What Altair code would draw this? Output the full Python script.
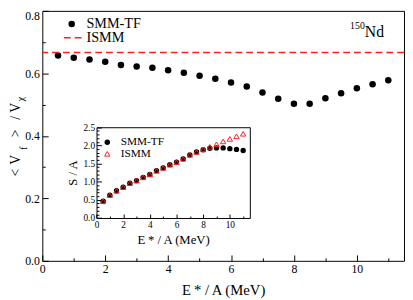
import altair as alt
import pandas as pd

# ---------------- data ----------------
energy = [0.5, 1.0, 1.5, 2.0, 2.5, 3.0, 3.5, 4.0, 4.5, 5.0, 5.5,
          6.0, 6.5, 7.0, 7.5, 8.0, 8.5, 9.0, 9.5, 10.0, 10.5, 11.0]
vratio_smm = [0.657, 0.650, 0.644, 0.637, 0.627, 0.622, 0.618, 0.610, 0.602, 0.592, 0.583,
              0.571, 0.558, 0.539, 0.519, 0.503, 0.503, 0.520, 0.536, 0.552, 0.565, 0.578]
ismm_ratio = [0.667]

s_smm = [0.46, 0.63, 0.75, 0.85, 0.96, 1.03, 1.12, 1.20, 1.30, 1.38, 1.47,
         1.54, 1.63, 1.74, 1.82, 1.88, 1.92, 1.93, 1.93, 1.91, 1.89, 1.86]
s_ismm = [0.46, 0.63, 0.75, 0.85, 0.96, 1.03, 1.12, 1.20, 1.30, 1.38, 1.47,
          1.54, 1.63, 1.74, 1.82, 1.89, 1.96, 2.03, 2.11, 2.18, 2.25, 2.32]

x_major = [0, 2, 4, 6, 8, 10]
x_minor = [1, 3, 5, 7, 9, 11]
y_major = [0.0, 0.2, 0.4, 0.6, 0.8]
y_minor = [0.1, 0.3, 0.5, 0.7]
inset_y_major = [0.0, 0.5, 1.0, 1.5, 2.0, 2.5]
inset_y_minor = [0.1, 0.2, 0.3, 0.4, 0.6, 0.7, 0.8, 0.9, 1.1, 1.2, 1.3, 1.4,
                 1.6, 1.7, 1.8, 1.9, 2.1, 2.2, 2.3, 2.4]
legend_labels = ["SMM-TF", "ISMM"]
nucleus = ["150", "Nd"]
ytitle_main = ["<", "V", ">", "/", "V"]
ytitle_sub = ["f", "\u03c7"]

# ---------------- layout ----------------
W, H = 369, 255
SERIF = "Liberation Serif"
RED = "#ff2020"

main_df = pd.DataFrame({"E": energy, "V": vratio_smm})
inset_df = pd.DataFrame({"E": energy, "S1": s_smm, "S2": s_ismm})
rule_df = pd.DataFrame({"r": ismm_ratio})
one = main_df.head(1)

mx = alt.Scale(domain=[0, 11.5], nice=False, zero=False)
my = alt.Scale(domain=[0, 0.8], nice=False, zero=False)
ix = alt.Scale(domain=[0, 11.5], range=[55.3, 211.7], nice=False, zero=False)
iy = alt.Scale(domain=[0, 2.5], range=[211.3, 118.7], nice=False, zero=False)

IX_OFF = -(H - 211.3)   # inset bottom axis offset
IY_OFF = -55.3          # inset left axis offset


def label_axis(orient, values, fmt, size, offset=0, title=None, tsize=14, pad=3, tpad=3,
               baseline="middle"):
    return alt.Axis(orient=orient, values=values, format=fmt, ticks=False, tickSize=0,
                    domain=(offset != 0), domainColor="black", offset=offset,
                    labelFont=SERIF, labelFontSize=size, labelColor="black", labelPadding=pad,
                    labelBaseline=baseline if orient in ("left", "right") else "top",
                    title=title, titleFont=SERIF, titleFontSize=tsize, titleFontWeight="normal",
                    titleColor="black", titlePadding=tpad, grid=False, labelFlush=False)


def tick_axis(orient, values, size, offset=0):
    return alt.Axis(orient=orient, values=values, labels=False, domain=False, ticks=True,
                    tickSize=size, offset=offset - size, tickColor="black", title=None, grid=False)


def txt(t, size, x, y, align="left", baseline="middle", angle=0):
    return alt.Chart(one).mark_text(align=align, baseline=baseline, font=SERIF, fontSize=size,
                                    angle=angle, color="black", text=t).encode(
        x=alt.value(x), y=alt.value(y))


# main panel: labels
main_pts = alt.Chart(main_df).mark_circle(size=44, color="black", opacity=1).encode(
    x=alt.X("E:Q", scale=mx, axis=label_axis("bottom", x_major, "d", 12,
                                             title="E\u2009* / A (MeV)", tsize=15, tpad=8)),
    y=alt.Y("V:Q", scale=my, axis=label_axis("left", y_major[:-1], ".1f", 12)),
)
main_toplabel = alt.Chart(main_df).mark_point(opacity=0).encode(
    x=alt.X("E:Q", scale=mx, axis=None),
    y=alt.Y("V:Q", scale=my, axis=label_axis("left", y_major[-1:], ".1f", 12, baseline="top")),
)
main_major = alt.Chart(main_df).mark_point(opacity=0).encode(
    x=alt.X("E:Q", scale=mx, axis=tick_axis("bottom", x_major, 6)),
    y=alt.Y("V:Q", scale=my, axis=tick_axis("left", y_major, 6)),
)
main_minor = alt.Chart(main_df).mark_point(opacity=0).encode(
    x=alt.X("E:Q", scale=mx, axis=tick_axis("bottom", x_minor, 3)),
    y=alt.Y("V:Q", scale=my, axis=tick_axis("left", y_minor, 3)),
)
ismm_rule = alt.Chart(rule_df).mark_rule(color=RED, strokeDash=[7, 4], strokeWidth=1.5).encode(
    y=alt.Y("r:Q", scale=my, axis=None)
)

# main legend
leg_pt = alt.Chart(one).mark_circle(size=44, color="black", opacity=1).encode(
    x=alt.value(30), y=alt.value(13.5))
leg_dash = alt.Chart(one).mark_rule(color=RED, strokeDash=[7, 4], strokeWidth=1.5).encode(
    x=alt.value(22), x2=alt.value(40), y=alt.value(27.5))
leg_t1 = txt(legend_labels[0], 14.5, 45, 13.5)
leg_t2 = txt(legend_labels[1], 14.5, 45, 27.5)

# nucleus label
nuc_sup = txt(nucleus[0], 10, 314, 18, baseline="alphabetic")
nuc_main = txt(nucleus[1], 16, 329, 27, baseline="alphabetic")

# y-axis title "< V_f > / V_chi" (rotated pieces)
YB = -23
yt = [txt(ytitle_main[0], 14, YB, 165, align="center", baseline="alphabetic", angle=270),
      txt(ytitle_main[1], 14, YB, 152, align="center", baseline="alphabetic", angle=270),
      txt(ytitle_sub[0], 10, YB + 7, 140, align="center", baseline="alphabetic", angle=270),
      txt(ytitle_main[2], 14, YB, 125, align="center", baseline="alphabetic", angle=270),
      txt(ytitle_main[3], 14, YB, 109, align="center", baseline="alphabetic", angle=270),
      txt(ytitle_main[4], 14, YB, 99, align="center", baseline="alphabetic", angle=270),
      txt(ytitle_sub[1], 10, YB + 4, 90, align="center", baseline="alphabetic", angle=270)]

# inset
inset_labels = alt.Chart(inset_df).mark_point(opacity=0).encode(
    x=alt.X("E:Q", scale=ix, axis=label_axis("bottom", x_major, "d", 9.5, offset=IX_OFF,
                                             title="E\u2009* / A (MeV)", tsize=13, pad=2, tpad=5)),
    y=alt.Y("S1:Q", scale=iy, axis=label_axis("left", inset_y_major, ".1f", 9.5, offset=IY_OFF,
                                              title="S / A", tsize=13, pad=2, tpad=4)),
)
inset_frame = alt.Chart(inset_df).mark_point(opacity=0).encode(
    x=alt.X("E:Q", scale=ix, axis=alt.Axis(orient="top", offset=-118.7, labels=False, ticks=False,
                                           domain=True, domainColor="black", title=None, grid=False)),
    y=alt.Y("S1:Q", scale=iy, axis=alt.Axis(orient="right", offset=-(W - 211.7), labels=False, ticks=False,
                                            domain=True, domainColor="black", title=None, grid=False)),
)
inset_major = alt.Chart(inset_df).mark_point(opacity=0).encode(
    x=alt.X("E:Q", scale=ix, axis=tick_axis("bottom", x_major, 4, IX_OFF)),
    y=alt.Y("S1:Q", scale=iy, axis=tick_axis("left", inset_y_major, 5, IY_OFF)),
)
inset_minor = alt.Chart(inset_df).mark_point(opacity=0).encode(
    x=alt.X("E:Q", scale=ix, axis=tick_axis("bottom", x_minor, 2, IX_OFF)),
    y=alt.Y("S1:Q", scale=iy, axis=tick_axis("left", inset_y_minor, 2.5, IY_OFF)),
)
inset_smm = alt.Chart(inset_df).mark_circle(size=30, color="black", opacity=1).encode(
    x=alt.X("E:Q", scale=ix, axis=None),
    y=alt.Y("S1:Q", scale=iy, axis=None),
)
inset_ismm = alt.Chart(inset_df).mark_point(shape="triangle-up", filled=False, size=30, color=RED,
                                            strokeWidth=1, opacity=1).encode(
    x=alt.X("E:Q", scale=ix, axis=None),
    y=alt.Y("S2:Q", scale=iy, axis=None),
)
ileg_pt = alt.Chart(one).mark_circle(size=30, color="black", opacity=1).encode(
    x=alt.value(66.3), y=alt.value(134))
ileg_tri = alt.Chart(one).mark_point(shape="triangle-up", filled=False, size=30, color=RED,
                                     strokeWidth=1, opacity=1).encode(
    x=alt.value(66.3), y=alt.value(145.8))
ileg_t1 = txt(legend_labels[0], 11.5, 80, 134)
ileg_t2 = txt(legend_labels[1], 11.5, 80, 145.8)

chart = alt.layer(
    main_major, main_minor, main_pts, main_toplabel, ismm_rule,
    leg_pt, leg_dash, leg_t1, leg_t2, nuc_sup, nuc_main,
    *yt,
    inset_frame, inset_labels, inset_major, inset_minor, inset_smm, inset_ismm,
    ileg_pt, ileg_tri, ileg_t1, ileg_t2,
).resolve_scale(x="independent", y="independent").resolve_axis(x="independent", y="independent").properties(
    width=W, height=H,
    autosize=alt.AutoSizeParams(type="none"),
    padding={"left": 35, "top": 0, "right": 1, "bottom": 36},
).configure_view(stroke="black", strokeWidth=1).configure_axis(grid=False)

chart.save("out.html", embed_options={"renderer": "svg", "actions": False})
